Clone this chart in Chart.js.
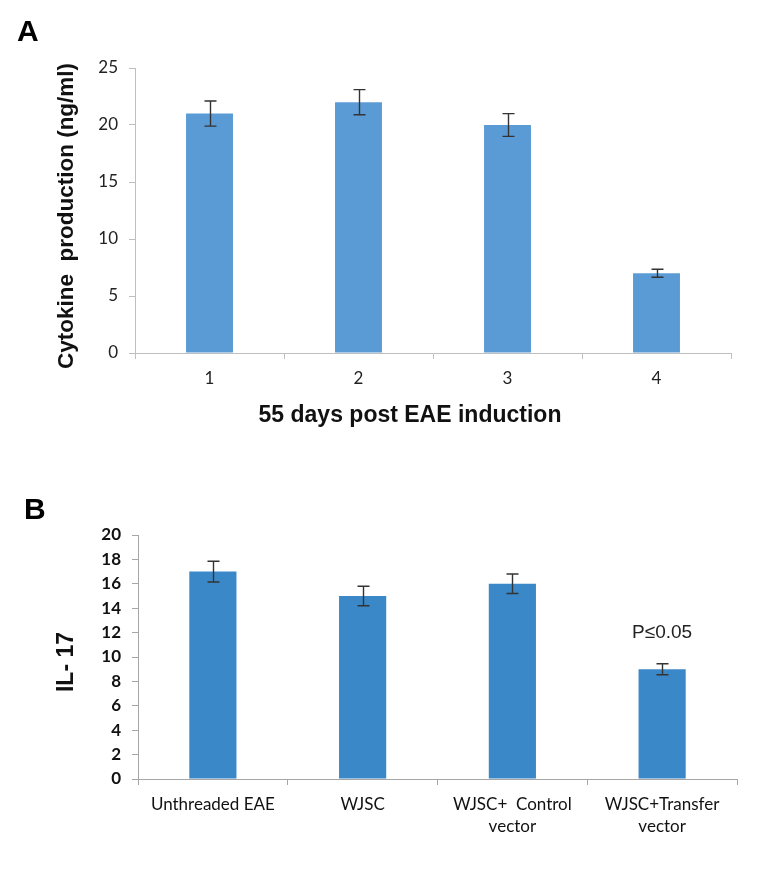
<!DOCTYPE html>
<html>
<head>
<meta charset="utf-8">
<script src="https://cdn.jsdelivr.net/npm/chart.js@4/dist/chart.umd.min.js"></script>
<style>
    body { margin: 0; background: #fff; }
    #wrap { position: relative; width: 771px; height: 873px; overflow: hidden; }
    .txt { position: absolute; font-family: "Liberation Sans", Arial, sans-serif; font-weight: bold; line-height: 1; color: #000; white-space: pre; }
    .panel-label { font-size: 30px; }
    .axis-title { transform: translate(-50%, -50%); color: #111; }
    .axis-title.rot { transform: translate(-50%, -50%) rotate(-90deg); }
    canvas { position: absolute; left: 0; }
</style>
</head>
<body>
<div id="wrap">
    <canvas id="chart-a" width="771" height="440" style="top:0;"></canvas>
    <canvas id="chart-b" width="771" height="433" style="top:440px;"></canvas>
    <div class="txt panel-label" style="left:17px; top:16px;">A</div>
    <div class="txt panel-label" style="left:24px; top:494px;">B</div>
    <div class="txt axis-title rot" id="title-a-y" style="left:66px; top:216px; font-size:22.5px;"></div>
    <div class="txt axis-title" id="title-a-x" style="left:410px; top:414px; font-size:23px;"></div>
    <div class="txt axis-title rot" id="title-b-y" style="left:65px; top:662px; font-size:23px;"></div>
</div>
<script>
// Panel A data
const daysLabels = ['1', '2', '3', '4'];
const cytokineValues = [21, 22, 20, 7];
const cytokineErrors = [1.1, 1.1, 1.0, 0.35];

// Panel B data
const groupLabels = [['Unthreaded EAE'], ['WJSC'], ['WJSC+  Control', 'vector'], ['WJSC+Transfer', 'vector']];
const il17Values = [17, 15, 16, 9];
const il17Errors = [0.85, 0.8, 0.8, 0.45];

// significance note over the last group
const pNote = 'P\u22640.05';
const pNoteIndex = 3;
const pNoteValue = 12;

// axis titles
document.getElementById('title-a-y').textContent = 'Cytokine  production (ng/ml)';
document.getElementById('title-a-x').textContent = '55 days post EAE induction';
document.getElementById('title-b-y').textContent = 'IL- 17';

const tickFont = 'Lato, "Open Sans", sans-serif';
const noteFont = '"Liberation Sans", Arial, sans-serif';

// Draw error bars using the chart's own scales
const errorBarPlugin = {
    id: 'errorBars',
    afterDatasetsDraw(chart, args, opts) {
        const { ctx, scales: { y } } = chart;
        const meta = chart.getDatasetMeta(0);
        const values = chart.data.datasets[0].data;
        ctx.save();
        ctx.strokeStyle = '#333';
        ctx.lineWidth = 1.4;
        meta.data.forEach((bar, i) => {
            const err = opts.errors[i];
            const top = y.getPixelForValue(values[i] + err);
            const bottom = y.getPixelForValue(values[i] - err);
            const x = Math.round(bar.x) + 0.5;
            ctx.beginPath();
            ctx.moveTo(x, top);
            ctx.lineTo(x, bottom);
            ctx.moveTo(x - 6, top);
            ctx.lineTo(x + 6, top);
            ctx.moveTo(x - 6, bottom);
            ctx.lineTo(x + 6, bottom);
            ctx.stroke();
        });
        ctx.restore();
    }
};

// Text note placed with the scales
const notePlugin = {
    id: 'note',
    afterDatasetsDraw(chart, args, opts) {
        if (!opts.text) return;
        const { ctx, scales: { x, y } } = chart;
        ctx.save();
        ctx.font = '19px ' + noteFont;
        ctx.fillStyle = '#222';
        ctx.textAlign = 'center';
        ctx.textBaseline = 'middle';
        ctx.fillText(opts.text, x.getPixelForValue(opts.index), y.getPixelForValue(opts.value));
        ctx.restore();
    }
};

function makeChart(id, cfg) {
    return new Chart(document.getElementById(id), {
        type: 'bar',
        data: {
            labels: cfg.labels,
            datasets: [{
                data: cfg.values,
                backgroundColor: cfg.color,
                barPercentage: 0.315,
                categoryPercentage: 1
            }]
        },
        plugins: [errorBarPlugin, notePlugin],
        options: {
            responsive: false,
            animation: false,
            events: [],
            layout: { padding: cfg.padding },
            plugins: {
                legend: { display: false },
                tooltip: { enabled: false },
                errorBars: { errors: cfg.errors },
                note: cfg.note || {}
            },
            scales: {
                x: {
                    grid: { display: true, drawOnChartArea: false, drawTicks: true, tickLength: 6, color: cfg.axisColor, offset: true },
                    border: { display: true, color: cfg.axisColor, width: 1 },
                    ticks: { color: cfg.tickColor, font: cfg.xTickFont, padding: cfg.xTickPadding, maxRotation: 0, autoSkip: false },
                    afterFit: (s) => { s.height = cfg.xHeight; }
                },
                y: {
                    min: 0,
                    max: cfg.yMax,
                    grid: { display: true, drawOnChartArea: false, drawTicks: true, tickLength: 6, color: cfg.axisColor },
                    border: { display: true, color: cfg.axisColor, width: 1 },
                    ticks: { stepSize: cfg.yStep, color: cfg.tickColor, font: cfg.yTickFont, padding: 11 },
                    afterFit: (s) => { s.width = cfg.yWidth; }
                }
            }
        }
    });
}

makeChart('chart-a', {
    labels: daysLabels,
    values: cytokineValues,
    errors: cytokineErrors,
    color: '#5b9bd5',
    axisColor: '#bfbfbf',
    tickColor: '#222',
    padding: { top: 68, right: 40, bottom: 15, left: 0 },
    yMax: 25,
    yStep: 5,
    yWidth: 135,
    xHeight: 72,
    xTickPadding: 9,
    xTickFont: { family: tickFont, size: 17 },
    yTickFont: { family: tickFont, size: 17 }
});

makeChart('chart-b', {
    labels: groupLabels,
    values: il17Values,
    errors: il17Errors,
    color: '#3b88c8',
    axisColor: '#a6a6a6',
    tickColor: '#111',
    padding: { top: 95, right: 34, bottom: 0, left: 0 },
    yMax: 20,
    yStep: 2,
    yWidth: 138,
    xHeight: 94,
    xTickPadding: 8,
    xTickFont: { family: tickFont, size: 17, lineHeight: 1.3 },
    yTickFont: { family: tickFont, size: 17, weight: 'bold' },
    note: { text: pNote, index: pNoteIndex, value: pNoteValue }
});
</script>
</body>
</html>
